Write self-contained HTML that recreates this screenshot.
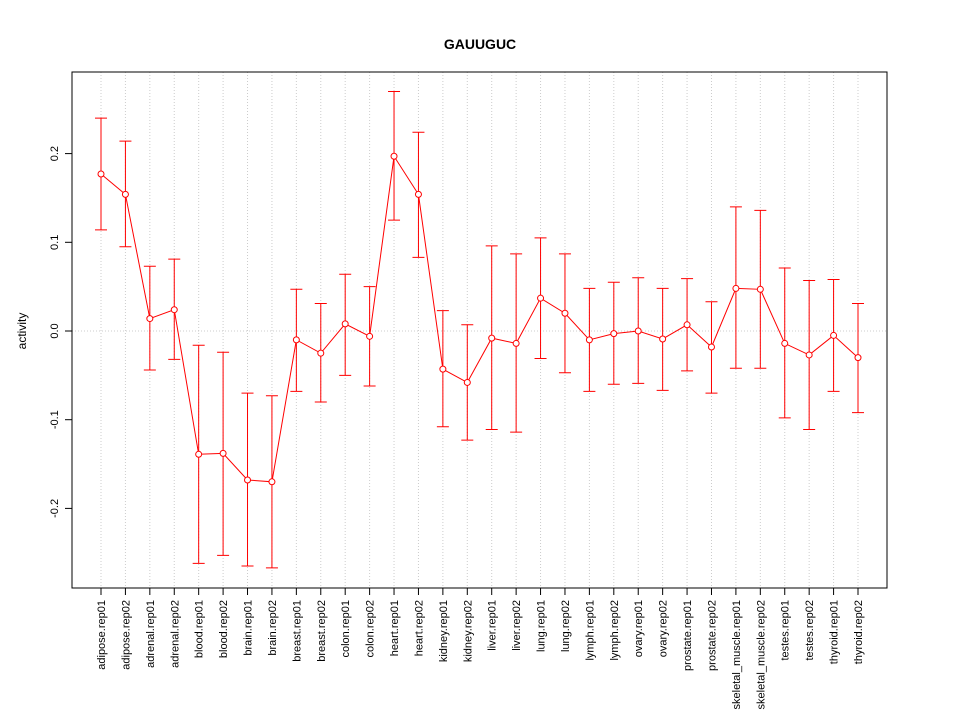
<!DOCTYPE html>
<html><head><meta charset="utf-8"><style>body{margin:0;background:#fff}svg{display:block}text{font-family:"Liberation Sans",sans-serif}</style></head>
<body>
<svg id="chart" width="960" height="720" xmlns="http://www.w3.org/2000/svg">
<text x="480" y="49" text-anchor="middle" font-size="14" font-weight="bold">GAUUGUC</text>
<text transform="translate(26,331) rotate(-90)" text-anchor="middle" font-size="12">activity</text>
<g id="grid"></g><g id="axes"></g><g id="marks"></g>
<rect x="72" y="72" width="815" height="516" fill="none" stroke="#000"/>
</svg>
<script>
const categories=["adipose.rep01","adipose.rep02","adrenal.rep01","adrenal.rep02","blood.rep01","blood.rep02","brain.rep01","brain.rep02","breast.rep01","breast.rep02","colon.rep01","colon.rep02","heart.rep01","heart.rep02","kidney.rep01","kidney.rep02","liver.rep01","liver.rep02","lung.rep01","lung.rep02","lymph.rep01","lymph.rep02","ovary.rep01","ovary.rep02","prostate.rep01","prostate.rep02","skeletal_muscle.rep01","skeletal_muscle.rep02","testes.rep01","testes.rep02","thyroid.rep01","thyroid.rep02"];
const values=[0.177,0.154,0.014,0.024,-0.139,-0.138,-0.168,-0.170,-0.010,-0.025,0.008,-0.006,0.197,0.154,-0.043,-0.058,-0.008,-0.014,0.037,0.020,-0.010,-0.003,0.000,-0.009,0.007,-0.018,0.048,0.047,-0.014,-0.027,-0.005,-0.030];
const upper=[0.240,0.214,0.073,0.081,-0.016,-0.024,-0.070,-0.073,0.047,0.031,0.064,0.050,0.270,0.224,0.023,0.007,0.096,0.087,0.105,0.087,0.048,0.055,0.060,0.048,0.059,0.033,0.140,0.136,0.071,0.057,0.058,0.031];
const lower=[0.114,0.095,-0.044,-0.032,-0.262,-0.253,-0.265,-0.267,-0.068,-0.080,-0.050,-0.062,0.125,0.083,-0.108,-0.123,-0.111,-0.114,-0.031,-0.047,-0.068,-0.060,-0.059,-0.067,-0.045,-0.070,-0.042,-0.042,-0.098,-0.111,-0.068,-0.092];
const yTicks=[-0.2,-0.1,0.0,0.1,0.2];
const yTickLabels=["-0.2","-0.1","0.0","0.1","0.2"];
const NS="http://www.w3.org/2000/svg";
const xPos=i=>101+i*(858-101)/(categories.length-1);
const yPos=v=>331-v*887;
function mk(p,tag,a){const e=document.createElementNS(NS,tag);for(const k in a)e.setAttribute(k,a[k]);p.appendChild(e);return e;}
const grid=document.getElementById('grid'),axes=document.getElementById('axes'),marks=document.getElementById('marks');
categories.forEach((c,i)=>{const x=xPos(i);
 const g=mk(grid,'line',{x1:x,x2:x,y1:72,y2:588,stroke:'#ccc','stroke-dasharray':'1,2'});
 
 
 const t=mk(axes,'line',{x1:x,x2:x,y1:588,y2:595,stroke:'#000'});
 
 
 const l=mk(axes,'text',{transform:`translate(${x+4},600) rotate(-90)`,'text-anchor':'end','font-size':'11'});
 l.textContent=c;
 
 
});
const z=mk(grid,'line',{x1:72,x2:887,y1:yPos(0),y2:yPos(0),stroke:'#ccc','stroke-dasharray':'1,2'});


yTicks.forEach((v,i)=>{const y=yPos(v);
 const t=mk(axes,'line',{x1:65,x2:72,y1:y,y2:y,stroke:'#000'});
 
 
 const l=mk(axes,'text',{transform:`translate(58,${y}) rotate(-90)`,'text-anchor':'middle','font-size':'11'});
 l.textContent=yTickLabels[i];
 
 
});
const pl=mk(marks,'polyline',{points:values.map((v,i)=>xPos(i)+','+yPos(v)).join(' '),fill:'none',stroke:'#f00'});


values.forEach((v,i)=>{const x=xPos(i),yh=yPos(upper[i]),yl=yPos(lower[i]);
 const eb=mk(marks,'path',{d:`M${x},${yh}V${yl}M${x-6},${yh}H${x+6}M${x-6},${yl}H${x+6}`,stroke:'#f00',fill:'none'});
 
 
 const p=mk(marks,'circle',{cx:x,cy:yPos(v),r:3,fill:'#fff',stroke:'#f00'});
 
 
});
</script>
</body></html>
